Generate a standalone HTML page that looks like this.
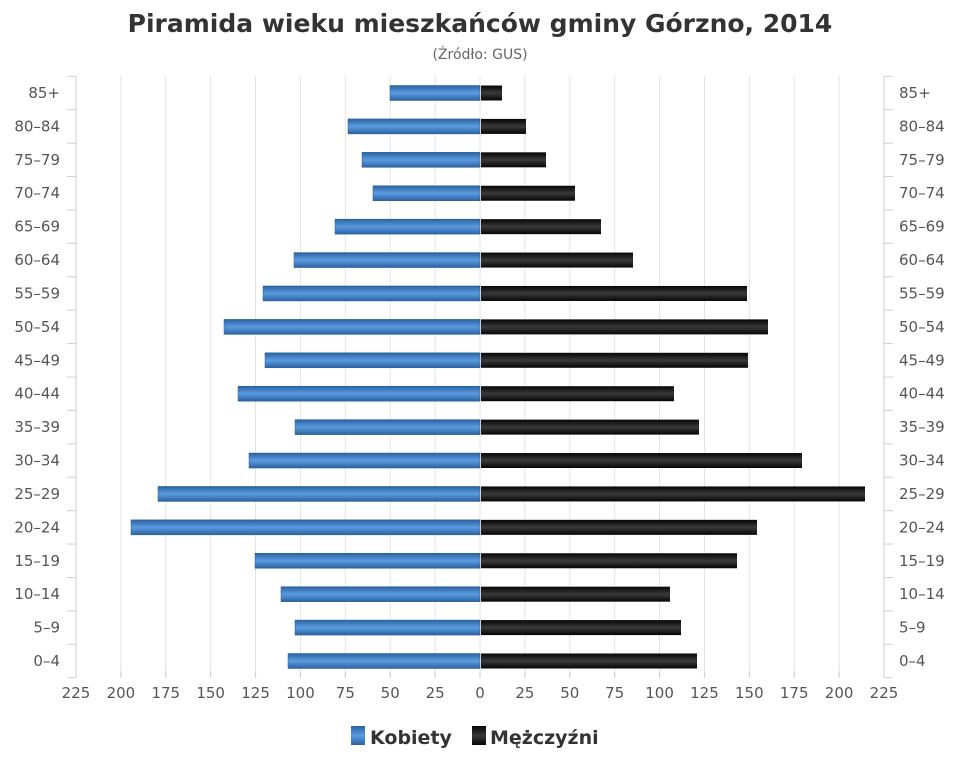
<!DOCTYPE html>
<html><head><meta charset="utf-8"><style>body{margin:0;background:#fff}svg{display:block}</style></head><body>
<svg width="960" height="768" xmlns="http://www.w3.org/2000/svg" font-family="'Liberation Sans','DejaVu Sans',sans-serif">
<defs>
<linearGradient id="b" x1="0" y1="0" x2="0" y2="1"><stop offset="0" stop-color="#2b62a0"/><stop offset="0.5" stop-color="#5b9be0"/><stop offset="1" stop-color="#2b62a0"/></linearGradient>
<linearGradient id="k" x1="0" y1="0" x2="0" y2="1"><stop offset="0" stop-color="#050505"/><stop offset="0.5" stop-color="#3a3a3a"/><stop offset="1" stop-color="#050505"/></linearGradient>
</defs>
<text x="480" y="32" text-anchor="middle" font-size="25" font-weight="bold" fill="#333" font-family="'DejaVu Sans',sans-serif">Piramida wieku mieszkańców gminy Górzno, 2014</text>
<text x="480" y="59" text-anchor="middle" font-size="14" fill="#666" font-family="'DejaVu Sans',sans-serif">(Źródło: GUS)</text>
<g id="grid" stroke="#e0e0e0" stroke-width="1"></g>
<g id="bars"></g>
<g id="labels" font-family="'DejaVu Sans',sans-serif" font-size="15" fill="#555"></g>
<g font-family="'DejaVu Sans',sans-serif" font-size="19" font-weight="bold" fill="#333">
<rect x="351" y="726" width="14" height="19" fill="url(#b)"/>
<text x="370" y="744">Kobiety</text>
<rect x="472" y="726" width="14" height="19" fill="url(#k)"/>
<text x="490" y="744">Mężczyźni</text>
</g>
</svg>
<script>
(function(){
const ns="http://www.w3.org/2000/svg";
function el(p,t,a,txt){const e=document.createElementNS(ns,t);for(const k in a)e.setAttribute(k,a[k]);if(txt!=null)e.textContent=txt;p.appendChild(e);return e;}
const g=document.getElementById('grid'),b=document.getElementById('bars'),l=document.getElementById('labels');
const z=480,u=404/225,y0=76.3,y1=677.7,step=(y1-y0)/18;
for(let v=-225;v<=225;v+=25){const x=z+v*u;el(g,'line',{x1:x,x2:x,y1:y0,y2:y1,stroke:(Math.abs(v)==225?'#c8d0dc':'#e3e3e3')});
el(g,'line',{x1:x,x2:x,y1:y1-6,y2:y1,stroke:'#ccc'});
el(l,'text',{x:x,y:698,'text-anchor':'middle'},String(Math.abs(v)));}
for(let i=0;i<=18;i++){const y=y0+i*step;el(g,'line',{x1:67,x2:76,y1:y,y2:y,stroke:'#c8d0dc'});el(g,'line',{x1:884,x2:893,y1:y,y2:y,stroke:'#c8d0dc'});}
const cats=['85+','80-84','75-79','70-74','65-69','60-64','55-59','50-54','45-49','40-44','35-39','30-34','25-29','20-24','15-19','10-14','5-9','0-4'];
const W=[390,348,362,373,335,294,263,224,265,238,295,249,158,131,255,281,295,288];
const M=[502,526,546,575,601,633,747,768,748,674,699,802,865,757,737,670,681,697];
cats.forEach((c,i)=>{const y=y0+(i+0.5)*step;
el(b,'rect',{x:W[i],y:y-7.5,width:z-W[i],height:15,fill:'url(#b)',stroke:'#2a5c95','stroke-width':0.5});
el(b,'rect',{x:z+1,y:y-7.5,width:M[i]-z-1,height:15,fill:'url(#k)'});
const t=c.replace('-','–');
el(l,'text',{x:60,y:y+5,'text-anchor':'end'},t);
el(l,'text',{x:899,y:y+5},t);});
})();
</script>
</body></html>
